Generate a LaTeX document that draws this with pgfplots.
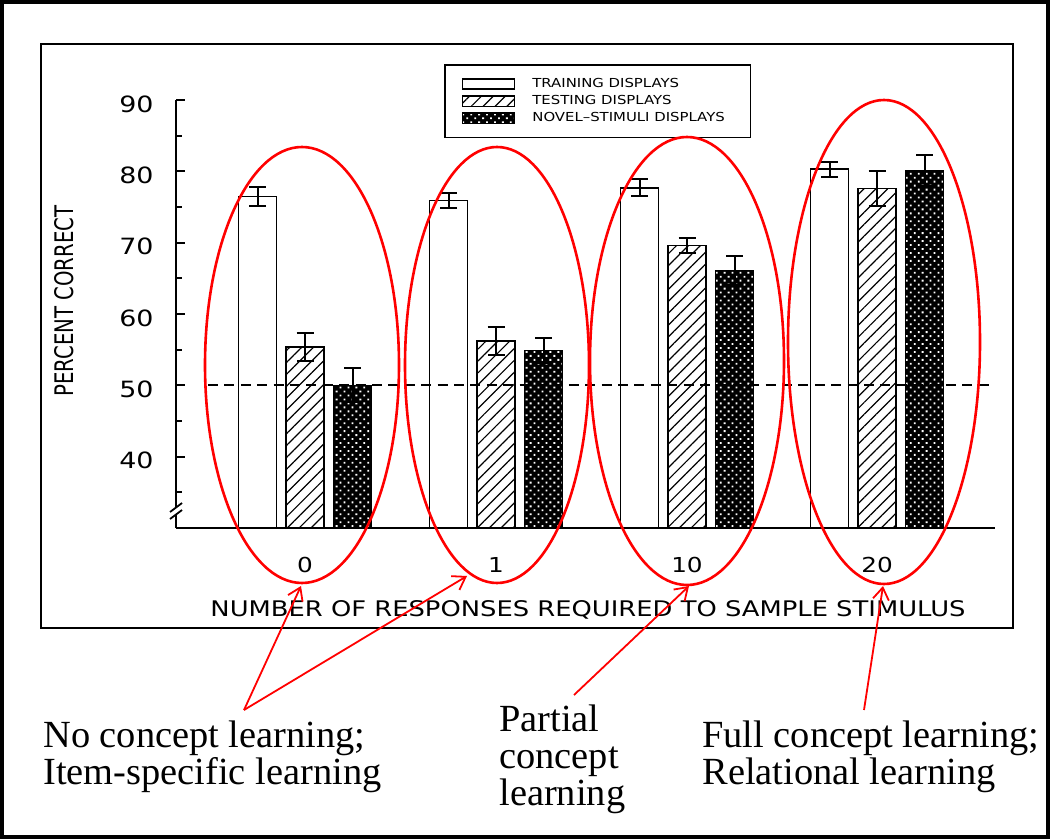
\documentclass[border=0pt]{standalone}
\usepackage{fontspec}
\setmainfont{Liberation Serif}
\newfontfamily\plotfont[FakeStretch=1.2]{DejaVu Sans}
\newfontfamily\ylabfont[FakeStretch=0.77]{DejaVu Sans}
\usepackage{pgfplots}
\pgfplotsset{compat=1.18}
\usetikzlibrary{patterns,patterns.meta,arrows.meta}

% bar looks
\pgfplotsset{
  train/.style={fill=white, draw=black, line width=0.8pt},
  test/.style={draw=black, line width=0.8pt,
    pattern={Lines[angle=45,distance=4.2pt,line width=0.6pt]}, pattern color=black},
  novel/.style={fill=black, draw=black, line width=0.8pt,
    postaction={pattern={Dots[angle=45,distance=2.8pt,radius=0.65pt]}, pattern color=white}},
  errs/.style={error bars/.cd, y dir=both, y explicit, error mark=|,
    error bar style={line width=1pt, black, solid},
    error mark options={line width=1pt, mark size=4.25pt, black, solid}},
}

\begin{document}
\begin{tikzpicture}
\useasboundingbox (0,0) rectangle (525pt,-419.5pt);

\begin{axis}[
    at={(88pt,-264pt)}, anchor=south west,
    scale only axis, width=409.5pt, height=214pt,
    xmin=0, xmax=819, ymin=30, ymax=90,
    axis lines*=left,
    axis line style={line width=1pt},
    ybar, bar width=38,
    xtick={129,320,511,701}, xticklabels={0,1,10,20},
    x tick style={draw=none},
    ytick={30,40,...,90}, yticklabels={,40,50,60,70,80,90},
    minor y tick num=1,
    tick align=inside,
    y tick style={line width=1pt, black},
    major tick length=4.5pt, minor tick length=3pt,
    /pgf/number format/assume math mode=true,
    ticklabel style={font=\plotfont\fontsize{11.2}{12}\selectfont},
    yticklabel style={anchor=east, inner sep=0pt, xshift=-11pt, yshift=-2pt},
    xticklabel style={anchor=north, inner sep=0pt, yshift=-14.5pt,
      font=\plotfont\fontsize{10.3}{12}\selectfont},
    xlabel={NUMBER OF RESPONSES REQUIRED TO SAMPLE STIMULUS},
    xlabel style={at={(axis description cs:0.503,0)}, anchor=north, inner sep=0pt,
      yshift=-36pt, font=\plotfont\fontsize{10.75}{12}\selectfont},
    ylabel={PERCENT CORRECT},
    ylabel style={at={(axis description cs:-0.137,0.53)}, anchor=center, rotate=0,
      inner sep=0pt, font=\ylabfont\fontsize{12.8}{14}\selectfont},
    legend style={at={(axis description cs:0.3272,1.0841)}, anchor=north west,
      draw=black, line width=0.8pt, inner xsep=8.5pt, inner ysep=6pt,
      row sep=1.5pt, font=\plotfont\fontsize{6.2}{7}\selectfont,
      nodes={inner sep=0.5pt}},
    legend cell align=left,
    legend image code/.code={%
      \draw[#1] (0pt,-2.6pt) rectangle (26pt,2.6pt);
      \path (34pt,0pt);},
  ]
  % training displays
  \addplot[train, bar shift=-47.5, errs] coordinates {
    (129,76.5) +- (0,1.3)
    (320,75.9) +- (0,1.05)
    (511,77.7) +- (0,1.2)
    (701,80.3) +- (0,1.05)
  };
  \addlegendentry{\makebox[100pt][l]{TRAINING DISPLAYS}}
  % testing displays
  \addplot[test, bar shift=0, errs] coordinates {
    (129,55.4) +- (0,2.0)
    (320,56.2) +- (0,2.0)
    (511,69.6) +- (0,1.0)
    (701,77.6) +- (0,2.5)
  };
  \addlegendentry{\makebox[100pt][l]{TESTING DISPLAYS}}
  % novel-stimuli displays
  \addplot[novel, bar shift=47.5, errs] coordinates {
    (129,50.0) +- (0,2.4)
    (320,54.9) +- (0,1.8)
    (511,66.1) +- (0,2.1)
    (701,80.1) +- (0,2.2)
  };
  \addlegendentry{\makebox[100pt][l]{NOVEL–STIMULI DISPLAYS}}
  % chance level
  \addplot[sharp plot, forget plot, black, line width=1pt, dash pattern=on 5pt off 3.2pt]
    coordinates {(32,50) (819,50)};
\end{axis}

\begin{scope}[x=0.5pt, y=-0.5pt]
  % frames
  \draw[line width=2pt] (2,2) rectangle (1048,837);
  \draw[line width=0.8pt] (41,44) rectangle (1013,628);
  % axis break
  \fill[white] (170,512) -- (182,503) -- (182,510) -- (170,519) -- cycle;
  \draw[line width=0.9pt] (170,512) -- (182,503);
  \draw[line width=0.9pt] (170,519) -- (182,510);
  % ellipses
  \begin{scope}[red, line width=1.3pt]
    \draw (302,365) ellipse (97 and 218);
    \draw (497,365) ellipse (92 and 218);
    \draw (687,361) ellipse (97 and 224);
    \draw (884,342) ellipse (96 and 242);
  \end{scope}
  % arrows
  \begin{scope}[red, line width=0.9pt, -{Straight Barb[length=6pt,width=8pt]}]
    \draw (244,710) -- (301,586);
    \draw (244,710) -- (467,576);
    \draw (574,695) -- (689,586);
    \draw (864,710) -- (883,586);
  \end{scope}
  % notes
  \begin{scope}[font=\fontsize{19.2}{19.2}\selectfont, inner sep=0pt]
    \node[anchor=base west] at (43,747) {No concept learning;};
    \node[anchor=base west] at (43,784) {Item-specific learning};
    \node[anchor=base west] at (499,731) {Partial};
    \node[anchor=base west] at (499,768) {concept};
    \node[anchor=base west] at (499,805) {learning};
    \node[anchor=base west] at (702,747) {Full concept learning;};
    \node[anchor=base west] at (702,784) {Relational learning};
  \end{scope}
\end{scope}
\end{tikzpicture}
\end{document}
